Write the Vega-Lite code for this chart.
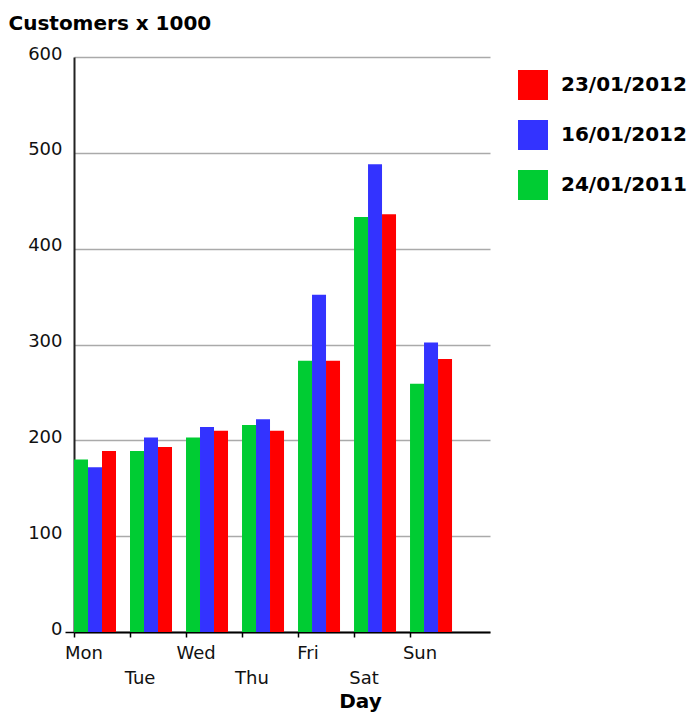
{
  "$schema": "https://vega.github.io/schema/vega-lite/v6.json",
  "autosize": "none",
  "width": 416,
  "height": 575,
  "padding": {"left": 74, "top": 57, "right": 210, "bottom": 81},
  "background": "white",
  "config": {
    "view": {"stroke": null},
    "axis": {"labelFont": "DejaVu Sans", "labelFontSize": 18, "labelColor": "#111", "titleFont": "DejaVu Sans", "titleFontWeight": "bold", "titleFontSize": 20, "titleColor": "#000"}
  },
  "data": {
    "values": [
      {"day": "Mon", "date": "24/01/2011", "customers": 180},
      {"day": "Mon", "date": "16/01/2012", "customers": 172},
      {"day": "Mon", "date": "23/01/2012", "customers": 189},
      {"day": "Tue", "date": "24/01/2011", "customers": 189},
      {"day": "Tue", "date": "16/01/2012", "customers": 203},
      {"day": "Tue", "date": "23/01/2012", "customers": 193},
      {"day": "Wed", "date": "24/01/2011", "customers": 203},
      {"day": "Wed", "date": "16/01/2012", "customers": 214},
      {"day": "Wed", "date": "23/01/2012", "customers": 210},
      {"day": "Thu", "date": "24/01/2011", "customers": 216},
      {"day": "Thu", "date": "16/01/2012", "customers": 222},
      {"day": "Thu", "date": "23/01/2012", "customers": 210},
      {"day": "Fri", "date": "24/01/2011", "customers": 283},
      {"day": "Fri", "date": "16/01/2012", "customers": 352},
      {"day": "Fri", "date": "23/01/2012", "customers": 283},
      {"day": "Sat", "date": "24/01/2011", "customers": 433},
      {"day": "Sat", "date": "16/01/2012", "customers": 488},
      {"day": "Sat", "date": "23/01/2012", "customers": 436},
      {"day": "Sun", "date": "24/01/2011", "customers": 259},
      {"day": "Sun", "date": "16/01/2012", "customers": 302},
      {"day": "Sun", "date": "23/01/2012", "customers": 285}
    ]
  },
  "mark": {"type": "bar"},
  "encoding": {
    "x": {
      "field": "day",
      "type": "nominal",
      "sort": ["Mon", "Tue", "Wed", "Thu", "Fri", "Sat", "Sun"],
      "scale": {"paddingInner": 0.25, "paddingOuter": 0.339, "align": 0},
      "axis": {
        "title": "Day",
        "titleX": 286,
        "titleY": 75,
        "titleBaseline": "alphabetic",
        "labelAngle": 0,
        "bandPosition": 0,
        "labelOffset": -11,
        "labelAlign": "center",
        "labelBaseline": "top",
        "labelPadding": 7,
        "labelLineHeight": 25,
        "labelExpr": "indexof(['Tue','Thu','Sat'], datum.value) >= 0 ? ['', datum.value] : datum.value",
        "tickSize": 5,
        "tickColor": "#000",
        "tickWidth": 1.5,
        "domainColor": "#000",
        "domainWidth": 2,
        "grid": false
      }
    },
    "xOffset": {
      "field": "date",
      "type": "nominal",
      "sort": ["24/01/2011", "16/01/2012", "23/01/2012"],
      "scale": {"paddingInner": 0, "paddingOuter": 0}
    },
    "y": {
      "field": "customers",
      "type": "quantitative",
      "scale": {"domain": [0, 600], "nice": false},
      "axis": {
        "title": "Customers x 1000",
        "titleAngle": 0,
        "titleAlign": "left",
        "titleBaseline": "alphabetic",
        "titleX": -66,
        "titleY": -28,
        "values": [0, 100, 200, 300, 400, 500, 600],
        "labelPadding": 3,
        "labelOffset": -3,
        "tickSize": 9,
        "tickColor": {"condition": {"test": "datum.value === 0", "value": "#000"}, "value": "transparent"},
        "tickWidth": 1.5,
        "domainColor": "#222",
        "domainWidth": 2,
        "grid": true,
        "gridColor": "#aaaaaa",
        "gridWidth": 1.5
      }
    },
    "color": {
      "field": "date",
      "type": "nominal",
      "scale": {
        "domain": ["23/01/2012", "16/01/2012", "24/01/2011"],
        "range": ["#ff0000", "#3333ff", "#00cc33"]
      },
      "legend": {
        "title": null,
        "orient": "none",
        "legendX": 444,
        "legendY": 13,
        "symbolType": "square",
        "symbolSize": 900,
        "symbolStrokeWidth": 0,
        "symbolOpacity": 1,
        "rowPadding": 20,
        "labelOffset": 13,
        "labelFont": "DejaVu Sans",
        "labelFontWeight": "bold",
        "labelFontSize": 20,
        "labelColor": "#000",
        "labelLimit": 300
      }
    }
  }
}
